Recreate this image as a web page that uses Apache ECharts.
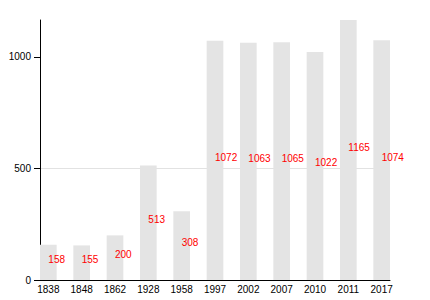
<!DOCTYPE html>
<html>
<head>
<meta charset="utf-8">
<script src="https://cdn.jsdelivr.net/npm/echarts@6/dist/echarts.min.js"></script>
<style>html,body{margin:0;padding:0;background:#fff}#c{width:430px;height:300px}</style>
</head>
<body>
<div id="c"></div>
<script>
var categories = ['1838','1848','1862','1928','1958','1997','2002','2007','2010','2011','2017'];
var values = [158, 155, 200, 513, 308, 1072, 1063, 1065, 1022, 1165, 1074];
var yTicks = [0, 500, 1000];

var FONT = '"Liberation Sans", Arial, Helvetica, sans-serif';
var chart = echarts.init(document.getElementById('c'), null, {renderer: 'svg'});
var barData = values.map(function (v, i) { return [i, v]; });
var n = categories.length;
var plotW = 350, pad = 0.25, step = plotW / (n - 1 + 2 * pad);
var catLeft = 40 - pad * step;
chart.setOption({
  animation: false,
  backgroundColor: '#fff',
  textStyle: {fontFamily: FONT},
  grid: [
    {left: 40, right: 40, top: 20, bottom: 20},
    {left: catLeft, right: 430 - catLeft - step * n, top: 20, bottom: 20}
  ],
  xAxis: [
    {type: 'value', gridIndex: 0, min: -pad, max: n - 1 + pad,
     axisLine: {show: true, onZero: false, lineStyle: {color: '#000', width: 1}},
     axisTick: {show: false}, axisLabel: {show: false}, splitLine: {show: false}},
    {type: 'category', gridIndex: 1, data: categories, boundaryGap: true,
     axisLine: {show: false}, axisTick: {show: false},
     axisLabel: {color: '#000', fontSize: 10, fontFamily: FONT, margin: 4, interval: 0},
     splitLine: {show: false}}
  ],
  yAxis: [
    {type: 'value', gridIndex: 0, min: 0, max: 'dataMax',
     axisLine: {show: true, onZero: false, lineStyle: {color: '#000', width: 1}},
     axisTick: {show: true, length: 6, customValues: yTicks, lineStyle: {color: '#000'}},
     axisLabel: {color: '#000', fontSize: 10, fontFamily: FONT, margin: 9, customValues: yTicks,
                 formatter: function (v) { return String(v); }},
     splitLine: {show: true, showMinLine: false, showMaxLine: false, lineStyle: {color: '#e2e2e2', width: 1}}},
    {type: 'value', gridIndex: 1, show: false}
  ],
  series: [{
    type: 'bar',
    xAxisIndex: 0, yAxisIndex: 0,
    data: barData,
    barWidth: step * 2 * pad,
    itemStyle: {color: '#e4e4e4'},
    label: {show: true, position: 'inside', align: 'left', verticalAlign: 'middle',
            offset: [0, -3], color: '#ff0000', fontSize: 10, fontFamily: FONT,
            formatter: function (p) { return p.value[1]; }}
  }]
});
</script>
</body>
</html>
